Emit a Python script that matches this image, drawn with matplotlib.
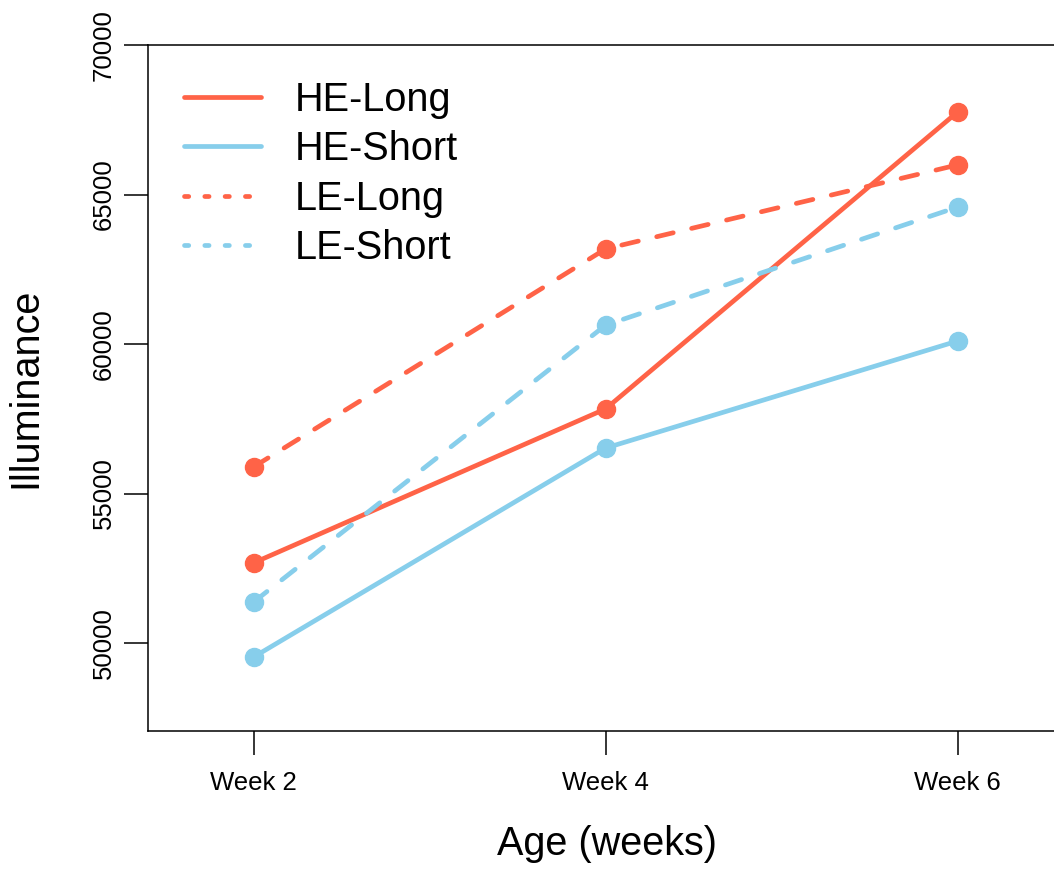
import matplotlib
matplotlib.use('Agg')

import matplotlib.pyplot as plt
from matplotlib.lines import Line2D

plt.rcParams['font.family'] = ['Liberation Sans', 'DejaVu Sans']

# illuminance by age for the four groups
weeks = ["Week 2", "Week 4", "Week 6"]
he_long = [52680, 57830, 67760]
he_short = [49530, 56520, 60100]
le_long = [55890, 63180, 65990]
le_short = [51370, 60630, 64580]

red = "#FF6347"
blue = "#87CEEB"

W, H = 1054, 869
fig = plt.figure(figsize=(W / 100, H / 100), dpi=100)

# plotting box runs past the right edge, like the original device
x_lo, x_hi = 0.7, 3.3
px_per_unit = 352
ax_w = (x_hi - x_lo) * px_per_unit
ax = fig.add_axes([148 / W, 1 - 731 / H, ax_w / W, (731 - 45) / H])

x = list(range(1, len(weeks) + 1))
lw = 3.4
ms = 13
dash = (3.6, 4.0)

ax.plot(x, he_long, color=red, lw=lw, marker="o", ms=ms, solid_capstyle="round")
ax.plot(x, he_short, color=blue, lw=lw, marker="o", ms=ms, solid_capstyle="round")
ax.plot(x, le_long, color=red, lw=lw, marker="o", ms=ms, linestyle=(0, dash),
        dash_capstyle="round")
ax.plot(x, le_short, color=blue, lw=lw, marker="o", ms=ms, linestyle=(0, dash),
        dash_capstyle="round")

ax.set_xlim(x_lo, x_hi)
ax.set_ylim(47057, 70000)
ax.set_xticks(x)
ax.set_xticklabels(weeks)
ax.set_yticks([50000, 55000, 60000, 65000, 70000])
ax.set_yticklabels(["50000", "55000", "60000", "65000", "70000"], rotation=90, va="center")

for side in ["left", "bottom", "top"]:
    ax.spines[side].set_linewidth(1.1)
ax.spines["right"].set_visible(False)

ax.tick_params(axis="both", length=17, width=1.1, labelsize=18.5)
ax.tick_params(axis="x", pad=12)
ax.tick_params(axis="y", pad=6)

ax.set_xlabel("Age (weeks)", fontsize=28.5)
ax.set_ylabel("Illuminance", fontsize=28.5)
ax.xaxis.set_label_coords((607 - 148) / ax_w, (731 - 825) / 686)
ax.yaxis.set_label_coords(-0.113, 0.5)

# legend keys use short dots for the dashed groups
dots = (0, (0.9, 3.4))
handles = [
    Line2D([], [], color=red, lw=lw, solid_capstyle="round"),
    Line2D([], [], color=blue, lw=lw, solid_capstyle="round"),
    Line2D([], [], color=red, lw=lw, linestyle=dots, dash_capstyle="round"),
    Line2D([], [], color=blue, lw=lw, linestyle=dots, dash_capstyle="round"),
]
ax.legend(handles, ["HE-Long", "HE-Short", "LE-Long", "LE-Short"],
          loc="upper left", bbox_to_anchor=(8 / ax_w, 1 - 8 / 686),
          frameon=False, fontsize=28.5, handlelength=1.95, handletextpad=0.85,
          labelspacing=0.29, borderaxespad=0.3)

fig.savefig("out.png", dpi=100)
plt.close(fig)
